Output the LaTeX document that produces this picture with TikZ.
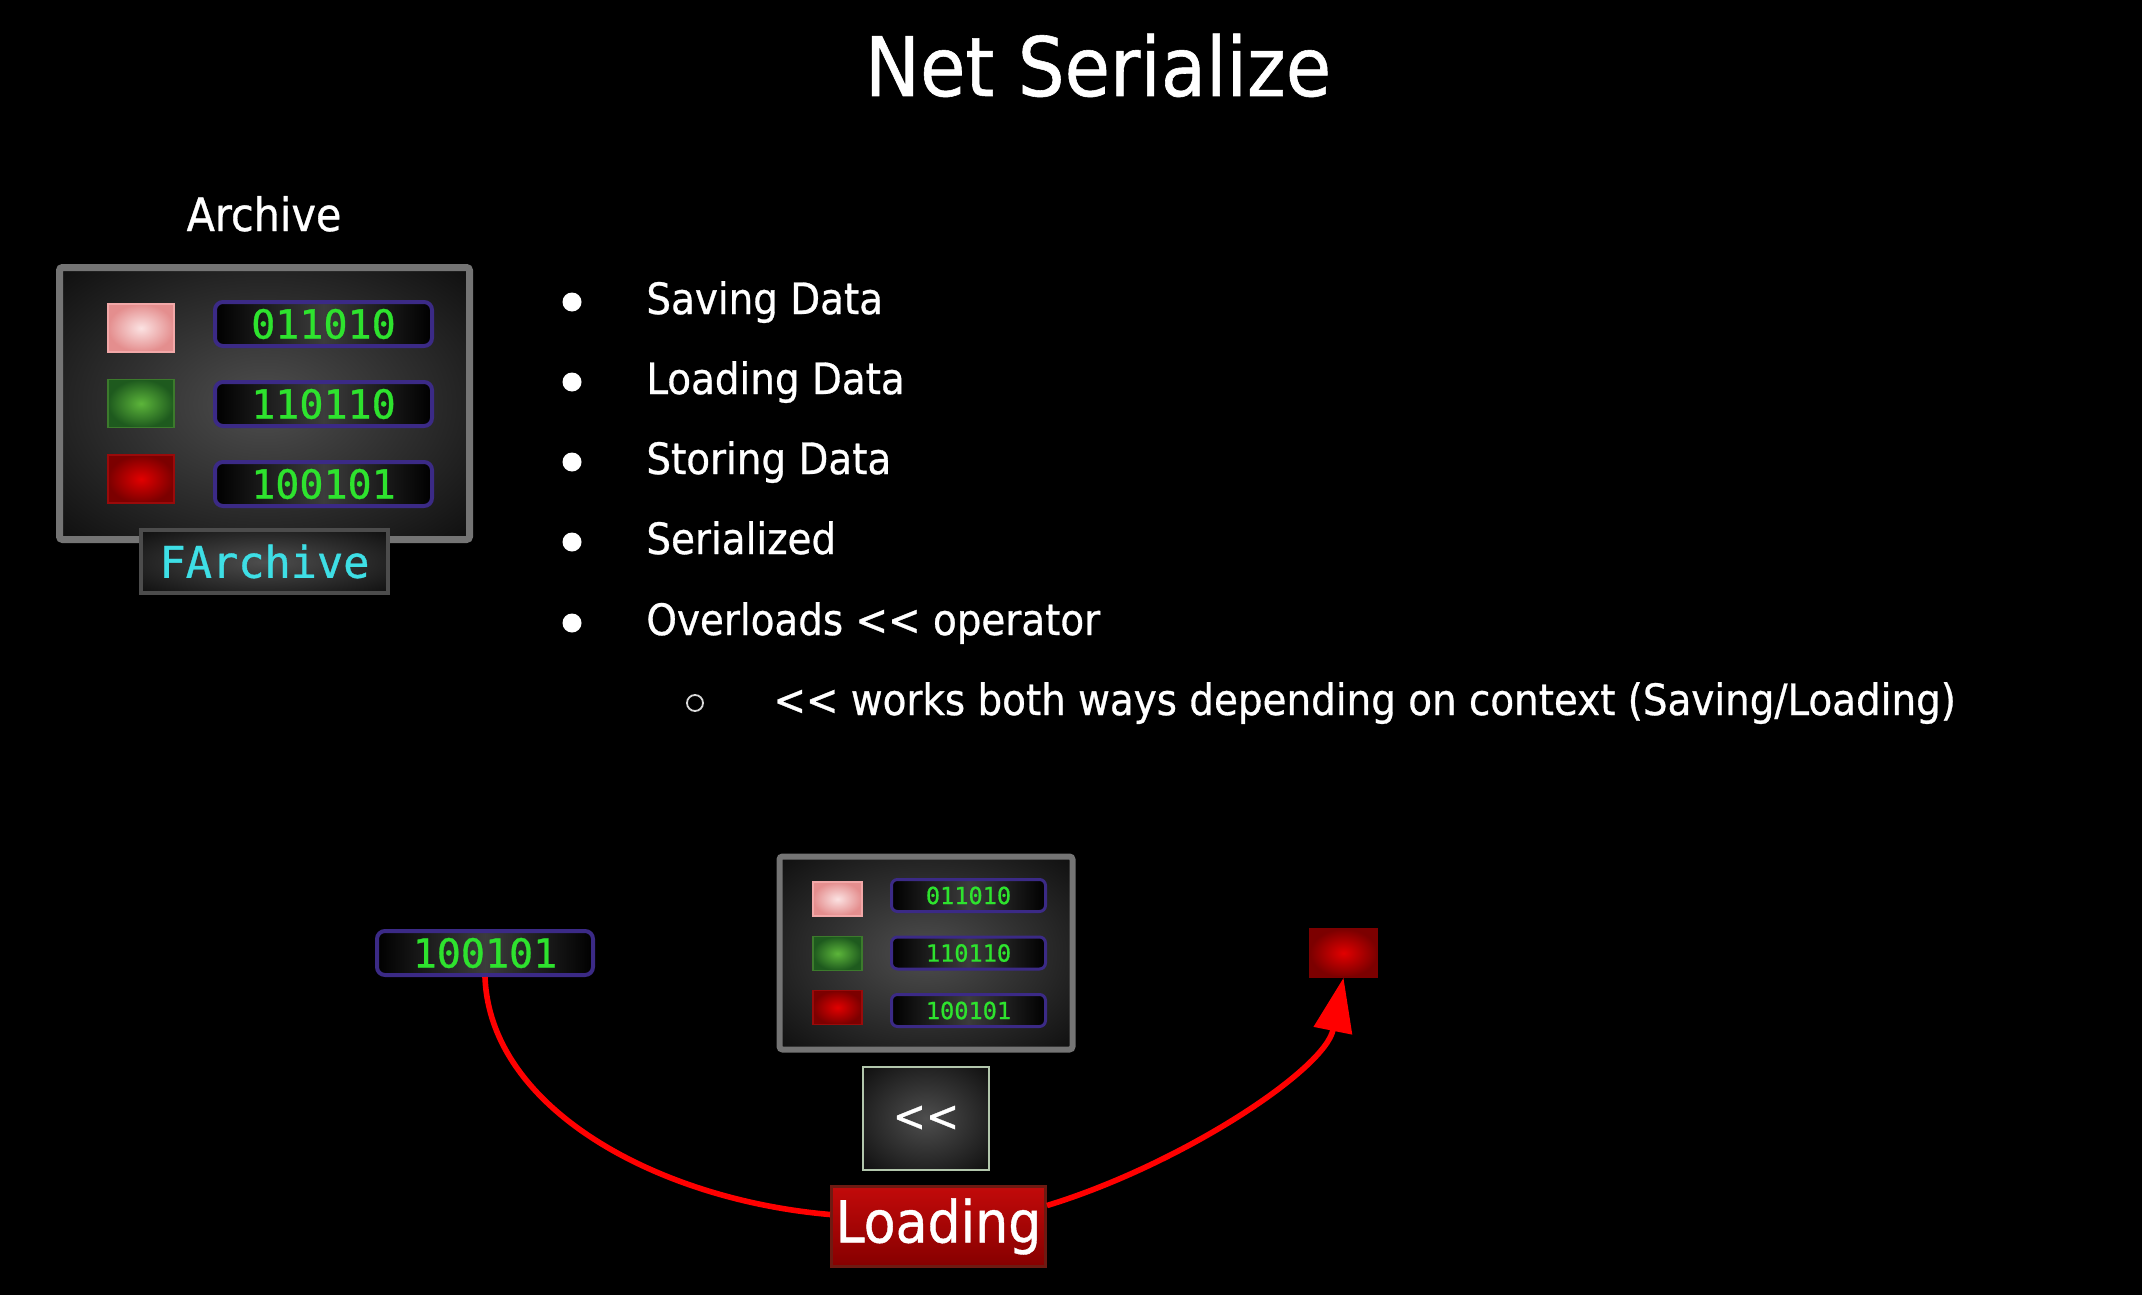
\documentclass[tikz,border=0pt]{standalone}
\usepackage{fontspec}
\newfontfamily\uifont{DejaVu Sans Condensed}[FakeBold=0.7]
\newfontfamily\codefont{DejaVu Sans Mono}[FakeBold=0.8]
\usetikzlibrary{arrows.meta,calc}
\definecolor{boxin}{HTML}{4E4E4E}
\definecolor{boxout}{HTML}{070707}
\definecolor{panelborder}{HTML}{747474}
\definecolor{fabborder}{HTML}{4C4C4C}
\definecolor{purpleb}{HTML}{3B2A86}
\definecolor{digit}{HTML}{2EE32E}
\definecolor{cyantext}{HTML}{3EDFE6}
\definecolor{midgray}{HTML}{3C3C3C}
\definecolor{pinkin}{HTML}{FBE2E2}
\definecolor{pinkout}{HTML}{E48E8E}
\definecolor{pinkb}{HTML}{F2A8A8}
\definecolor{greenin}{HTML}{5CB53A}
\definecolor{greenout}{HTML}{1E5A1E}
\definecolor{greenb}{HTML}{3C7A2C}
\definecolor{redin}{HTML}{E20000}
\definecolor{redout}{HTML}{7C0000}
\definecolor{redb}{HTML}{9A0A0A}
\definecolor{loadtop}{HTML}{C20A0A}
\definecolor{loadbot}{HTML}{860000}
\definecolor{loadb}{HTML}{6E1A12}
\definecolor{opborder}{HTML}{B2C6AC}
\definecolor{curvered}{HTML}{FF0000}
\pgfdeclareradialshading{panelshade}{\pgfpoint{0bp}{0bp}}{color(0bp)=(boxin); color(40bp)=(boxout); color(50bp)=(boxout)}
\begin{document}
\begin{tikzpicture}[x=0.5pt,y=-0.5pt,
  panel/.style={draw=panelborder, line width=3.5pt, shade, shading=panelshade, rounded corners=1.5pt, inner sep=0pt},
  databox/.style={draw=purpleb, line width=2pt, rounded corners=4pt, left color=black, right color=black, middle color=midgray, text=digit, inner sep=0pt, minimum width=108.5pt, minimum height=22pt, font=\codefont\fontsize{20}{24}\selectfont},
  smalldata/.style={draw=purpleb, line width=1.5pt, rounded corners=3pt, left color=black, right color=black, middle color=midgray, text=digit, inner sep=0pt, minimum width=77pt, minimum height=16pt, font=\codefont\fontsize{11.8}{14}\selectfont},
  sqpink/.style={draw=pinkb, line width=0.8pt, inner color=pinkin, outer color=pinkout, inner sep=0pt},
  sqgreen/.style={draw=greenb, line width=0.8pt, inner color=greenin, outer color=greenout, inner sep=0pt},
  sqred/.style={draw=redb, line width=0.8pt, inner color=redin, outer color=redout, inner sep=0pt},
  bigsq/.style={minimum width=33pt, minimum height=24pt},
  smallsq/.style={minimum width=24.5pt, minimum height=17pt},
  btext/.style={text=white, inner sep=0pt, anchor=base west, font=\uifont\fontsize{21.6}{25}\selectfont},
  bdot/.style={circle, fill=white, inner sep=0pt, minimum size=9.5pt},
  subdot/.style={circle, draw=white!85!black, line width=0.9pt, inner sep=0pt, minimum size=8pt},
  redline/.style={draw=curvered, line width=2.8pt}
]
\fill[black] (0,0) rectangle (2142,1295);
\useasboundingbox (0,0) rectangle (2142,1295);

% title
\node[text=white, inner sep=0pt, anchor=base, font=\uifont\fontsize{41}{48}\selectfont] (title) at (1098,96) {Net Serialize};

% top archive
\node[text=white, inner sep=0pt, anchor=base, font=\uifont\fontsize{23}{27}\selectfont] (archlabel) at (264,231) {Archive};
\node[panel, minimum width=205pt, minimum height=136pt] (arch) at (264.5,403.5) {};
\node[sqpink, bigsq] (s1) at (141,328) {};
\node[sqgreen, bigsq] (s2) at (141,403.5) {};
\node[sqred, bigsq] (s3) at (141,479) {};
\node[databox] (d1) at (323.5,324) {011010};
\node[databox] (d2) at (323.5,404) {110110};
\node[databox] (d3) at (323.5,484) {100101};
\node[draw=fabborder, line width=2pt, shade, shading=panelshade, inner sep=0pt, minimum width=123.5pt, minimum height=31.5pt, text=cyantext, font=\codefont\fontsize{21.8}{26}\selectfont] (fa) at (264.5,561.5) {FArchive};

% bullets
\node[bdot] (b1) at (572,302) {};
\node[bdot] (b2) at (572,382) {};
\node[bdot] (b3) at (572,462) {};
\node[bdot] (b4) at (572,542) {};
\node[bdot] (b5) at (572,623) {};
\node[subdot] (b6) at (695,703) {};
\node[btext] (l1) at (646,314) {Saving Data};
\node[btext] (l2) at (646,394) {Loading Data};
\node[btext] (l3) at (646,474) {Storing Data};
\node[btext] (l4) at (646,554) {Serialized};
\node[btext] (l5) at (646,635) {Overloads << operator};
\node[btext] (l6) at (773,715) {<< works both ways depending on context (Saving/Loading)};

% bottom archive
\node[panel, line width=3pt, minimum width=146.5pt, minimum height=96.5pt] (arch2) at (926,953) {};
\node[sqpink, smallsq] (t1) at (837.5,899) {};
\node[sqgreen, smallsq] (t2) at (837.5,953.5) {};
\node[sqred, smallsq] (t3) at (837.5,1007.5) {};
\node[smalldata] (e1) at (968.5,895.5) {011010};
\node[smalldata] (e2) at (968.5,953) {110110};
\node[smalldata] (e3) at (968.5,1010.5) {100101};

% operator box
\node[draw=opborder, line width=1pt, shade, shading=panelshade, inner sep=0pt, minimum width=63pt, minimum height=51.5pt, text=white, font=\uifont\fontsize{22}{26}\selectfont] (op) at (926,1118.5) {<<};

% loading
\node[draw=loadb, line width=1.5pt, top color=loadtop, bottom color=loadbot, inner sep=0pt, minimum width=107pt, minimum height=40pt, text=white, font=\uifont\fontsize{29}{33}\selectfont] (load) at (938.5,1226.5) {Loading};

% value and result
\node[databox, minimum width=108pt] (num) at (485,953) {100101};
\node[sqred, draw=redout, minimum width=33.5pt, minimum height=24pt] (rs) at (1343.5,953) {};

% connectors
\draw[redline] (num.south) .. controls (490,1110) and (660,1200) .. ($(load.west)+(0,-12)$);
\draw[redline, -{Triangle[length=27pt,width=19pt]}] ($(load.east)+(0,-21)$) .. controls (1180,1165) and (1325,1070) .. (rs.south);
\end{tikzpicture}
\end{document}
